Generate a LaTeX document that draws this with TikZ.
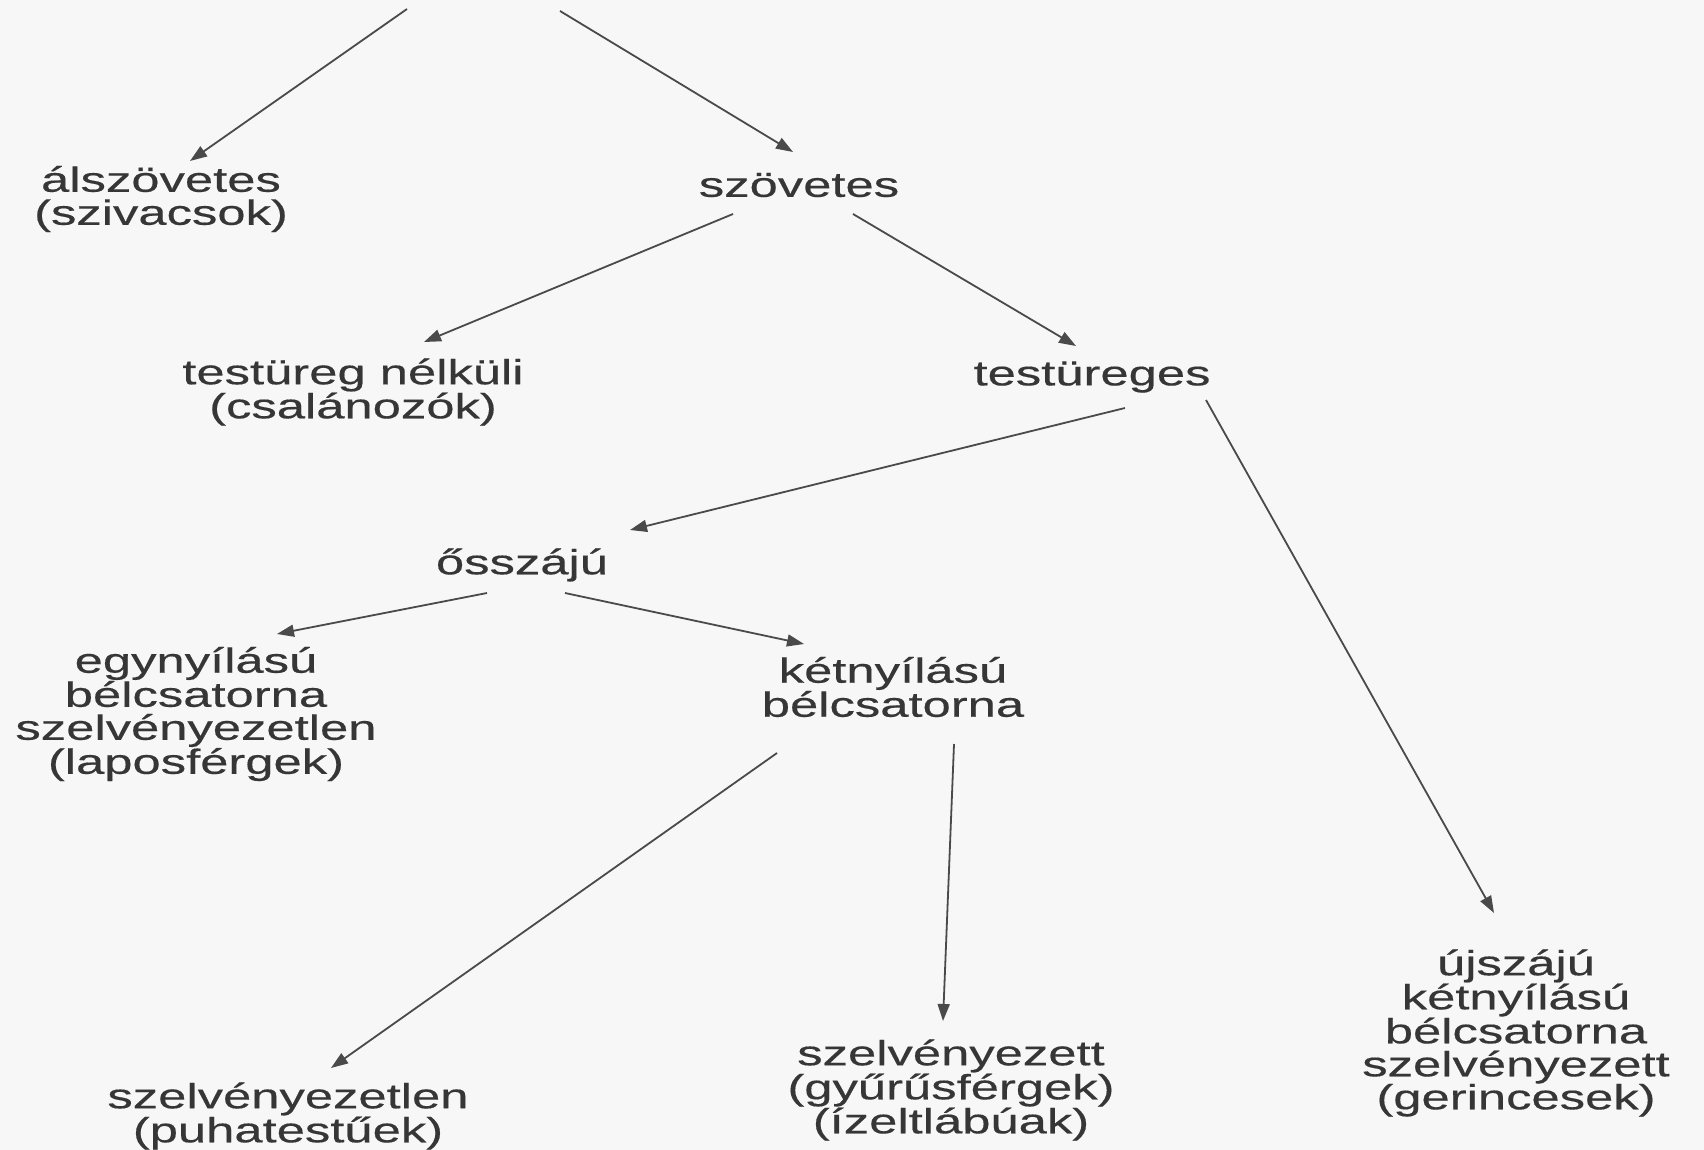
\documentclass[tikz,border=0pt]{standalone}
\usepackage{fontspec}
\setmainfont[FakeStretch=1.45,FakeBold=0.4]{Liberation Sans}
\usetikzlibrary{arrows.meta}

\definecolor{ink}{HTML}{363636}
\definecolor{wire}{HTML}{4A4A4A}
\definecolor{paper}{HTML}{F7F7F7}

\tikzset{
  taxon/.style={text=ink,align=center,inner sep=0pt,
    font=\fontsize{35}{33}\selectfont},
  branch/.style={wire,line width=1.8pt,-{Triangle[length=17pt,width=12pt]}}
}

\begin{document}
\begin{tikzpicture}[x=1pt,y=1pt]
  \fill[paper] (0,0) rectangle (1704,-1150);
  \useasboundingbox (0,0) rectangle (1704,-1150);

  \node[taxon] (alsz) at (161,-199) {álszövetes\\(szivacsok)};
  \node[taxon] (szov) at (799,-185) {szövetes};
  \node[taxon] (tnk)  at (353,-392) {testüreg nélküli\\(csalánozók)};
  \node[taxon] (tug)  at (1092,-377) {testüreges};
  \node[taxon] (osz)  at (522,-565) {ősszájú};
  \node[taxon] (egy)  at (196,-714) {egynyílású\\bélcsatorna\\szelvényezetlen\\(laposférgek)};
  \node[taxon] (ket)  at (893,-687) {kétnyílású\\bélcsatorna};
  \node[taxon] (pu)   at (288,-1116) {szelvényezetlen\\(puhatestűek)};
  \node[taxon] (gy)   at (951,-1090) {szelvényezett\\(gyűrűsférgek)\\(ízeltlábúak)};
  \node[taxon] (uj)   at (1516,-1033) {újszájú\\kétnyílású\\bélcsatorna\\szelvényezett\\(gerincesek)};

  % arrows coming in from above the cut
  \coordinate (rootl) at (407,-9);
  \coordinate (rootr) at (560,-11);

  \draw[branch] (rootl) -- ([xshift=29,yshift=38]alsz.center);
  \draw[branch] (rootr) -- ([xshift=-6,yshift=33]szov.center);
  \draw[branch] ([xshift=-66,yshift=-29]szov.center) -- ([xshift=71,yshift=50]tnk.center);
  \draw[branch] ([xshift=54,yshift=-29]szov.center) -- ([xshift=-16,yshift=31]tug.center);
  \draw[branch] ([xshift=33,yshift=-31]tug.center) -- ([xshift=108,yshift=35]osz.center);
  \draw[branch] ([xshift=114,yshift=-23]tug.center) -- ([xshift=-22,yshift=120]uj.center);
  \draw[branch] ([xshift=-35,yshift=-28]osz.center) -- ([xshift=81,yshift=80]egy.center);
  \draw[branch] ([xshift=43,yshift=-28]osz.center) -- ([xshift=-89,yshift=43]ket.center);
  \draw[branch] ([xshift=-116,yshift=-66]ket.center) -- ([xshift=43,yshift=48]pu.center);
  \draw[branch] ([xshift=61,yshift=-57]ket.center) -- ([xshift=-8,yshift=69]gy.center);
\end{tikzpicture}
\end{document}
